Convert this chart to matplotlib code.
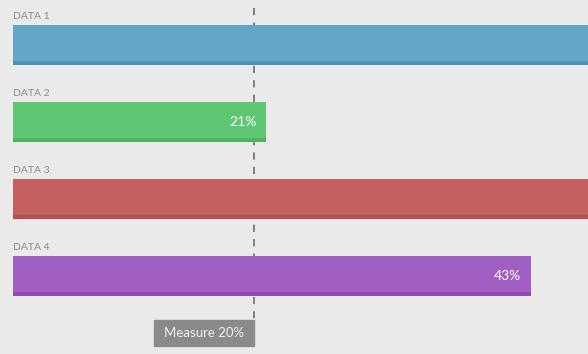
import matplotlib.pyplot as plt
from matplotlib.patches import Rectangle

labels = ["DATA 1", "DATA 2", "DATA 3", "DATA 4"]
values = [60, 21, 55, 43]
colors = ["#62a8c6", "#5ec672", "#c46160", "#a15fc3"]
edge_colors = ["#4d93b5", "#4cb45f", "#b94c4d", "#9248b3"]
measure = 20

plt.rcParams['font.family'] = ['Lato', 'DejaVu Sans']

fig = plt.figure(figsize=(5.88, 3.54), dpi=100, facecolor="#eaeaea")
ax = fig.add_axes([0, 0, 1, 1])
ax.set_facecolor("#eaeaea")

# px -> data: x = 13 + v*12.045, row center = 45 + 77*i
xmax = (588 - 13) / 12.045
ax.set_xlim(-13 / 12.045, xmax)
ax.set_ylim((354 - 45) / 77, -45 / 77)

bar_h = 40 / 77
strip_h = 4 / 77
rows = range(len(labels))

ax.barh(rows, values, height=bar_h, color=colors, left=0, zorder=2)
ax.barh([r + bar_h / 2 - strip_h / 2 for r in rows], values, height=strip_h,
        color=edge_colors, left=0, zorder=2)

for r, lab, v in zip(rows, labels, values):
    ax.text(0, r - 0.37, lab, fontsize=7.5, color="#8a8a8a", ha="left", va="center")
    # value labels sit inside the bar end; bars running past the edge hide them
    if v < xmax:
        ax.text(v - 0.8, r, f"{v}%", fontsize=10, color="white", ha="right",
                va="center", zorder=3)

ax.plot([measure, measure], [-0.48, 3.55], color="#777777", lw=1.3,
        dashes=(4, 4), zorder=1)

box_w = 100 / 12.045
ax.add_patch(Rectangle((measure - box_w, 3.571), box_w, 26 / 77,
                       color="#8a8a8a", zorder=3))
ax.text(measure - box_w / 2, 3.571 + 13 / 77, f"Measure {measure}%",
        fontsize=9.5, color="#f0f0f0", ha="center", va="center", zorder=4)

ax.axis("off")
fig.savefig("out.png", dpi=100, facecolor=fig.get_facecolor())
